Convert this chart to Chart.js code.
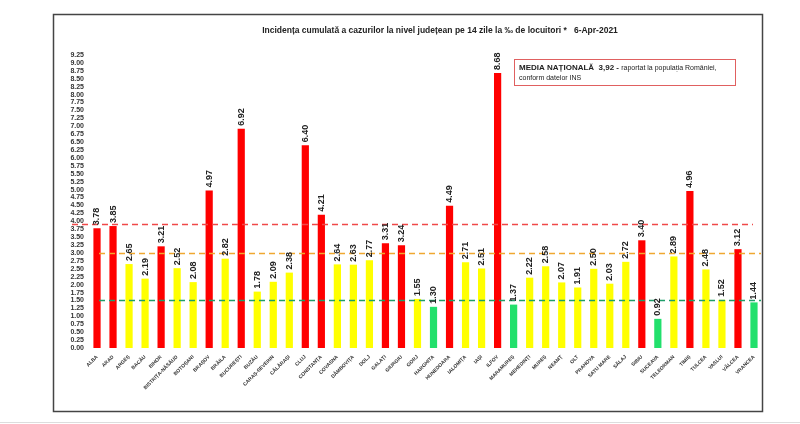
<!DOCTYPE html>
<html>
<head>
<meta charset="utf-8">
<script src="https://cdn.jsdelivr.net/npm/chart.js@4.4.1/dist/chart.umd.min.js"></script>
<style>
  html, body { margin: 0; padding: 0; background: #fff; }
  #wrap { width: 800px; height: 424px; }
</style>
</head>
<body>
<div id="wrap"><canvas id="myChart" width="800" height="424"></canvas></div>
<script>
const counties = ["ALBA", "ARAD", "ARGEȘ", "BACĂU", "BIHOR", "BISTRIȚA-NĂSĂUD", "BOTOȘANI", "BRAȘOV",
  "BRĂILA", "BUCUREȘTI", "BUZĂU", "CARAȘ-SEVERIN", "CĂLĂRAȘI", "CLUJ", "CONSTANȚA", "COVASNA",
  "DÂMBOVIȚA", "DOLJ", "GALAȚI", "GIURGIU", "GORJ", "HARGHITA", "HUNEDOARA", "IALOMIȚA", "IAȘI",
  "ILFOV", "MARAMUREȘ", "MEHEDINȚI", "MUREȘ", "NEAMȚ", "OLT", "PRAHOVA", "SATU MARE", "SĂLAJ",
  "SIBIU", "SUCEAVA", "TELEORMAN", "TIMIȘ", "TULCEA", "VASLUI", "VÂLCEA", "VRANCEA"];

const incidence = [3.78, 3.85, 2.65, 2.19, 3.21, 2.52, 2.08, 4.97,
  2.82, 6.92, 1.78, 2.09, 2.38, 6.40, 4.21, 2.64,
  2.63, 2.77, 3.31, 3.24, 1.55, 1.30, 4.49, 2.71, 2.51,
  8.68, 1.37, 2.22, 2.58, 2.07, 1.91, 2.50, 2.03, 2.72,
  3.40, 0.92, 2.89, 4.96, 2.48, 1.52, 3.12, 1.44];

const nationalMean = 3.92;
const thresholds = [3.0, 1.5];

// bar colour by level
const barColors = incidence.map(v => v >= 3 ? "#ff0000" : (v >= 1.5 ? "#ffff00" : "#22e06c"));

const FONT = "'Liberation Sans Narrow', 'Liberation Sans', sans-serif";

const decorPlugin = {
  id: "decor",
  beforeDraw(chart) {
    const c = chart.ctx;
    c.save();
    c.fillStyle = "#fff";
    c.fillRect(0, 0, chart.width, chart.height);
    // outer frame
    c.strokeStyle = "#444";
    c.lineWidth = 1.5;
    c.strokeRect(53.5, 14.5, 709, 397);
    c.strokeStyle = "#ddd";
    c.lineWidth = 1;
    c.beginPath(); c.moveTo(0, 422.5); c.lineTo(800, 422.5); c.stroke();
    // title
    c.fillStyle = "#222";
    c.font = "bold 8.5px " + FONT;
    c.textAlign = "center";
    c.textBaseline = "middle";
    c.fillText("Incidența cumulată a cazurilor la nivel județean pe 14 zile la ‰ de locuitori *   6-Apr-2021", 440, 31);
    c.restore();
  },
  afterDatasetsDraw(chart) {
    const c = chart.ctx;
    const y = chart.scales.y;
    const meta = chart.getDatasetMeta(0);
    c.save();
    // reference lines
    const lines = [
      { v: nationalMean, color: "#f04848", x0: 72, x1: 753 },
      { v: thresholds[0], color: "#f0a830", x0: 99, x1: 761 },
      { v: thresholds[1], color: "#1f9e6a", x0: 99, x1: 761 }
    ];
    c.lineWidth = 1.6;
    c.setLineDash([6, 4]);
    lines.forEach(l => {
      const py = Math.round(y.getPixelForValue(l.v)) + 0.5;
      c.strokeStyle = l.color;
      c.beginPath(); c.moveTo(l.x0, py); c.lineTo(l.x1, py); c.stroke();
    });
    c.setLineDash([]);
    // value labels
    c.fillStyle = "#222";
    c.font = "bold 9px " + FONT;
    c.textAlign = "left";
    c.textBaseline = "middle";
    meta.data.forEach((bar, i) => {
      c.save();
      c.translate(bar.x, bar.y - 3);
      c.rotate(-Math.PI / 2);
      c.fillText(incidence[i].toFixed(2), 0, 0);
      c.restore();
    });
    // info box
    c.strokeStyle = "#e06060";
    c.lineWidth = 1;
    c.fillStyle = "#fff";
    c.fillRect(514.5, 59.5, 221, 26);
    c.strokeRect(514.5, 59.5, 221, 26);
    c.fillStyle = "#222";
    c.font = "bold 8px " + FONT;
    c.textBaseline = "middle";
    const t1 = "MEDIA NAȚIONALĂ  3,92 - ";
    c.fillText(t1, 519, 68);
    const w1 = c.measureText(t1).width;
    c.font = "7px " + FONT;
    c.fillText("raportat la populația României,", 519 + w1, 68);
    c.fillText("conform datelor INS", 519, 78);
    c.restore();
  }
};

const ctx = document.getElementById("myChart").getContext("2d");

const myChart = new Chart(ctx, {
  type: "bar",
  data: {
    labels: counties,
    datasets: [{
      data: incidence,
      backgroundColor: barColors,
      borderWidth: 0,
      barPercentage: 0.5,
      categoryPercentage: 0.9
    }]
  },
  options: {
    responsive: false,
    animation: false,
    devicePixelRatio: 1,
    layout: { padding: { top: 55, right: 38, left: 0, bottom: 0 } },
    plugins: {
      legend: { display: false },
      tooltip: { enabled: false },
      title: { display: false }
    },
    scales: {
      x: {
        grid: { display: false, drawTicks: false },
        border: { display: false },
        afterFit: (scale) => { scale.height = 76; },
        ticks: {
          autoSkip: false,
          minRotation: 45,
          maxRotation: 45,
          padding: 6,
          color: "#333",
          font: { family: FONT, size: 5, weight: "bold" }
        }
      },
      y: {
        min: 0,
        max: 9.25,
        grid: { display: false, drawTicks: false },
        border: { display: false },
        afterFit: (scale) => { scale.width = 89; },
        ticks: {
          stepSize: 0.25,
          autoSkip: false,
          padding: 5,
          color: "#333",
          font: { family: FONT, size: 7, weight: "bold" },
          callback: (value) => Number(value).toFixed(2)
        }
      }
    }
  },
  plugins: [decorPlugin]
});
</script>
</body>
</html>
